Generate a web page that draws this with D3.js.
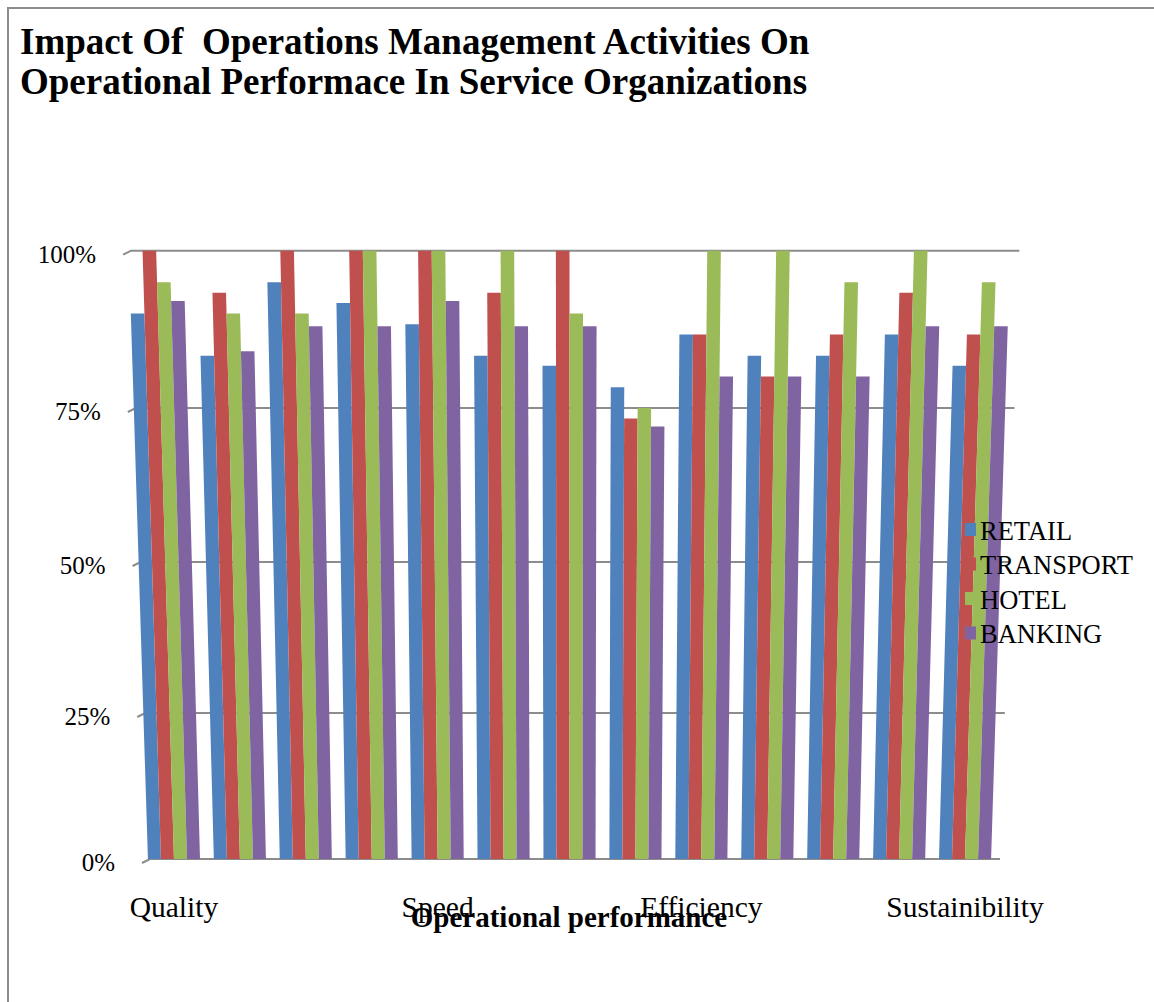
<!DOCTYPE html>
<html><head><meta charset="utf-8">
<script src="https://cdn.jsdelivr.net/npm/d3@7"></script>
<style>body{margin:0;background:#fff}svg{display:block}</style>
</head><body>
<svg id="chart" width="1154" height="1002"></svg>
<script>
// ---- data ----
const titleLines = ["Impact Of  Operations Management Activities On", "Operational Performace In Service Organizations"];
const categoryLabels = ["Quality","","","","Speed","","","","Efficiency","","","","Sustainibility"];
const seriesNames = ["RETAIL","TRANSPORT","HOTEL","BANKING"];
const retail    = [90, 83.3, 95, 91.7, 88.3, 83.3, 81.7, 78.3, 86.7, 83.3, 83.3, 86.7, 81.7];
const transport = [100, 93.3, 100, 100, 100, 93.3, 100, 73.3, 86.7, 80, 86.7, 93.3, 86.7];
const hotel     = [95, 90, 90, 100, 100, 100, 90, 75, 100, 100, 95, 100, 95];
const banking   = [92, 84, 88, 88, 92, 88, 88, 72, 80, 80, 80, 88, 88];
const yTicks = [0, 25, 50, 75, 100];
const xTitle = "Operational performance";
const seriesColors = ["#4F81BD", "#C0504D", "#9BBB59", "#8064A2"];

const seriesValues = [retail, transport, hotel, banking];
const svg = d3.select("#chart");
const serif = "'Liberation Serif','Times New Roman',serif";

// frame
svg.append("rect").attr("x", 8).attr("y", 8).attr("width", 1200).attr("height", 1100)
  .attr("fill", "none").attr("stroke", "#8c8c8c").attr("stroke-width", 2);

// title
svg.append("g").selectAll("text").data(titleLines).join("text")
  .attr("x", 20).attr("y", (d, i) => 54 + i * 40)
  .attr("font-family", serif).attr("font-weight", "bold").attr("font-size", 37)
  .style("white-space", "pre").text(d => d);

// scales
const x = d3.scaleBand().domain(d3.range(categoryLabels.length)).range([141, 998])
  .paddingInner(0.21).paddingOuter(0.105);
const xs = d3.scaleBand().domain(seriesNames).range([0, x.bandwidth()]);
const y = d3.scaleLinear().domain(yTicks).range([859, 713, 562, 408, 250.7]);
const depth = d3.scaleLinear().domain([0, 100]).range([1, 1.045]);
const cx = 570;
const project = (xb, v) => [cx + (xb - cx) * depth(v), y(v)];

// gridlines
const gx0 = 150, gx1 = 1000;
const grid = svg.append("g");
grid.selectAll("path").data(yTicks).join("path")
  .attr("d", v => {
    const a = project(gx0, v), b = project(gx1, v);
    return d3.line()([[a[0] - 8, a[1] + 4], a, b]);
  })
  .attr("fill", "none").attr("stroke", "#8c8c8c").attr("stroke-width", 2);

// y tick labels
svg.append("g").selectAll("text").data(yTicks).join("text")
  .attr("x", v => project(gx0, v)[0] - 35)
  .attr("y", v => y(v) + 12)
  .attr("text-anchor", "end")
  .attr("font-family", serif).attr("font-size", 25)
  .text(v => v + "%");

// bars
const bars = svg.append("g");
seriesValues.forEach((vals, si) => {
  bars.append("g").selectAll("polygon").data(vals).join("polygon")
    .attr("points", (v, i) => {
      const x0 = x(i) + xs(seriesNames[si]), x1 = x0 + xs.bandwidth();
      return [project(x0, 0), project(x1, 0), project(x1, v), project(x0, v)].map(p => p.join(",")).join(" ");
    })
    .attr("fill", seriesColors[si]);
});

// category labels
svg.append("g").selectAll("text").data(categoryLabels).join("text")
  .attr("x", (d, i) => x(i) + x.bandwidth() / 2)
  .attr("y", 917)
  .attr("text-anchor", "middle")
  .attr("font-family", serif).attr("font-size", 29.5)
  .text(d => d);

// axis title
svg.append("text").attr("x", 569).attr("y", 927).attr("text-anchor", "middle")
  .attr("font-family", serif).attr("font-weight", "bold").attr("font-size", 29)
  .text(xTitle);

// legend
const legend = svg.append("g").selectAll("g").data(seriesNames).join("g")
  .attr("transform", (d, i) => `translate(965, ${523 + i * 34.5})`);
legend.append("rect").attr("width", 11).attr("height", 13).attr("fill", (d, i) => seriesColors[i]);
legend.append("text").attr("x", 15).attr("y", 16.5)
  .attr("font-family", serif).attr("font-size", 26.5).text(d => d);
</script>
</body></html>
